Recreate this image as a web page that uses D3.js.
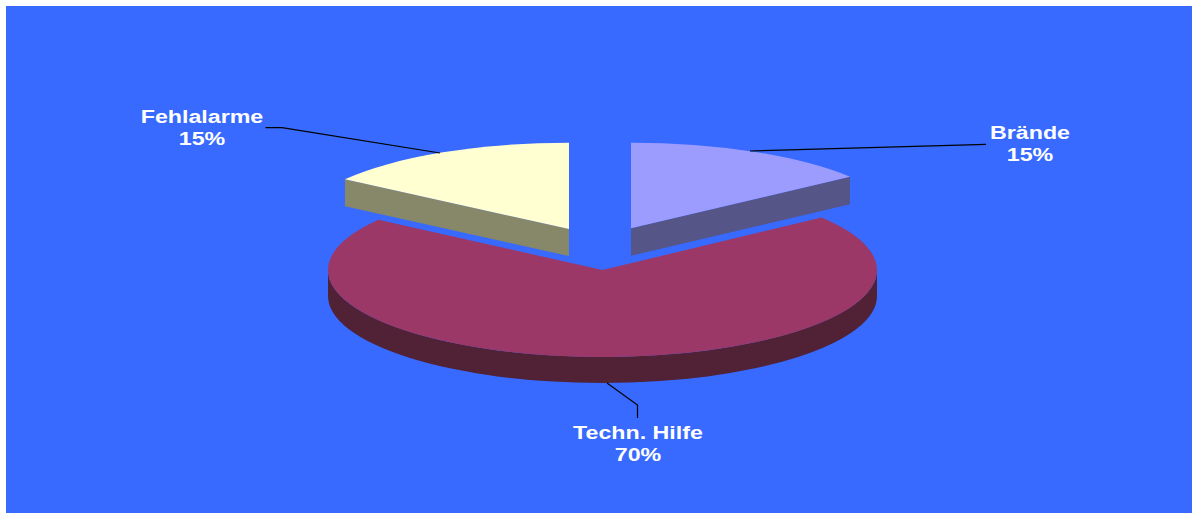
<!DOCTYPE html>
<html>
<head>
<meta charset="utf-8">
<script src="https://cdn.jsdelivr.net/npm/d3@7"></script>
<style>
  html, body { margin: 0; padding: 0; background: #fff; }
  svg { display: block; }
  text { font-family: "Liberation Sans", Arial, sans-serif; font-weight: bold; fill: #fff; font-size: 18.5px; text-anchor: middle; }
</style>
</head>
<body>
<script>
var categories = ['Brände', 'Techn. Hilfe', 'Fehlalarme'];
var values = [14.7, 70.1, 15.2];
var percentLabels = ['15%', '70%', '15%'];
var topColors = ['#9c9cff', '#9c3868', '#ffffd2'];
var sideColors = ['#555588', '#512136', '#878769'];

var width = 1192;
var height = 513;
var cx = 602.5;
var cy = 270;
var rx = 274.5;

// the slices are not quite the same height in the picture
var ry = [85.6, 87, 86.4];
var depth = [27.5, 26, 27];

// how far each slice is pulled out of the pie
var explodeX = [28.5, 0, -33.5];
var explodeY = [-41.7, 0, -40.9];

// label centre and leader line for each slice
var labelX = [1030, 638, 202];
var labelY = [139, 438.5, 122.5];
var leaders = [
  [[750, 151], [986, 144.3]],
  [[607, 383], [637.5, 405], [637.5, 418]],
  [[440, 153], [282, 127.7], [265.5, 127.7]]
];

var svg = d3.select('body').append('svg')
  .attr('width', width)
  .attr('height', height);

svg.append('rect')
  .attr('x', 6)
  .attr('y', 6)
  .attr('width', width - 6)
  .attr('height', height - 6)
  .attr('fill', '#386aff');

var pie = d3.pie().sort(null);

var arc = d3.arc().innerRadius(0).outerRadius(rx);

function pointAt(angle, i) {
  return [rx * Math.sin(angle), -ry[i] * Math.cos(angle)];
}

function sidePath(d) {
  var a, b;
  var h = depth[d.index];
  if (d.index === 1) {
    // only the front half of the big slice shows its rim
    a = [rx, 0];
    b = [-rx, 0];
    return 'M' + a + 'A' + rx + ',' + ry[1] + ' 0 0 1 ' + b +
      'L' + b[0] + ',' + (b[1] + h) +
      'A' + rx + ',' + ry[1] + ' 0 0 0 ' + a[0] + ',' + (a[1] + h) + 'Z';
  }
  // small slices show the cut edge that faces the viewer
  a = d.index === 0 ? pointAt(d.endAngle, 0) : pointAt(d.startAngle, 2);
  return 'M0,0L' + a + 'L' + a[0] + ',' + (a[1] + h) + 'L0,' + h + 'Z';
}

var slice = svg.selectAll('.slice')
  .data(pie(values))
  .enter()
    .append('g')
    .attr('class', 'slice')
    .attr('transform', function(d) {
      return 'translate(' + (cx + explodeX[d.index]) + ',' + (cy + explodeY[d.index]) + ')';
    });

slice.append('path')
  .attr('d', sidePath)
  .attr('fill', function(d) { return sideColors[d.index]; });

slice.append('path')
  .attr('d', arc)
  .attr('transform', function(d) { return 'scale(1,' + (ry[d.index] / rx) + ')'; })
  .attr('fill', function(d) { return topColors[d.index]; });

var line = d3.line();

svg.selectAll('.leader')
  .data(leaders)
  .enter()
    .append('path')
    .attr('class', 'leader')
    .attr('d', line)
    .attr('fill', 'none')
    .attr('stroke', '#000')
    .attr('stroke-width', 1.2);

// the reference text is drawn wider than normal Arial Bold
var label = svg.selectAll('.label')
  .data(categories)
  .enter()
    .append('text')
    .attr('class', 'label')
    .attr('transform', function(d, i) {
      return 'translate(' + labelX[i] + ',' + labelY[i] + ') scale(1.255,1)';
    });

label.append('tspan')
  .attr('x', 0)
  .text(function(d) { return d; });

label.append('tspan')
  .attr('x', 0)
  .attr('dy', 22.5)
  .text(function(d, i) { return percentLabels[i]; });
</script>
</body>
</html>
